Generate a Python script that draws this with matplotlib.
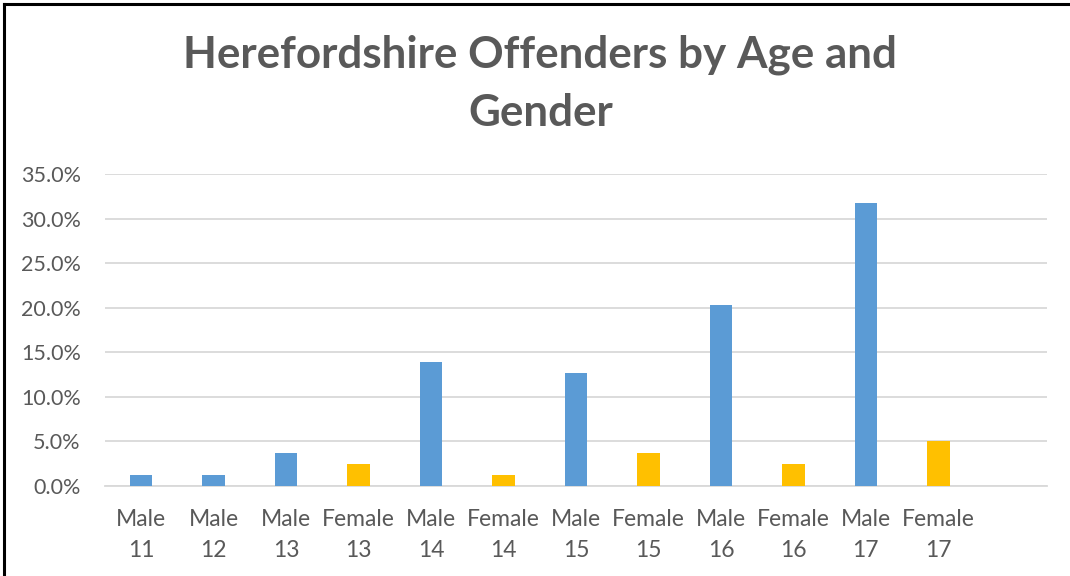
import matplotlib.pyplot as plt
from matplotlib.lines import Line2D
from matplotlib.ticker import FuncFormatter

genders = ['Male', 'Male', 'Male', 'Female', 'Male', 'Female',
           'Male', 'Female', 'Male', 'Female', 'Male', 'Female']
ages = [11, 12, 13, 13, 14, 14, 15, 15, 16, 16, 17, 17]
share = [1.25, 1.25, 3.75, 2.5, 13.9, 1.25, 12.7, 3.75, 20.3, 2.5, 31.7, 5.0]

colours = {'Male': '#5B9BD5', 'Female': '#FFC000'}
grey = '#595959'

plt.rcParams['font.family'] = ['Lato', 'DejaVu Sans']

fig = plt.figure(figsize=(10.7, 5.76), dpi=100)
ax = fig.add_axes([105 / 1070, 90 / 576, 942 / 1070, 312 / 576])

x = list(range(len(share)))
ax.bar(x, share, width=0.31, color=[colours[g] for g in genders], zorder=3)

ax.set_xlim(-0.5, len(share) + 0.5)
ax.set_ylim(0, 35)
ax.set_yticks(range(0, 36, 5))
ax.yaxis.set_major_formatter(FuncFormatter(lambda v, p: f'{v:.1f}%'))
ax.set_xticks(x)
ax.set_xticklabels([f'{g}\n{a}' for g, a in zip(genders, ages)], linespacing=1.6)

ax.grid(axis='y', color='#d9d9d9', lw=1.3, zorder=0)
for s in ['top', 'right', 'left']:
    ax.spines[s].set_visible(False)
ax.spines['bottom'].set_color('#d9d9d9')
ax.spines['bottom'].set_linewidth(1.3)
ax.tick_params(axis='both', length=0, colors=grey)
ax.tick_params(axis='y', pad=17.5, labelsize=15.5)
ax.tick_params(axis='x', pad=16.5, labelsize=16.5)

fig.text(0.505, 1 - 84 / 576, 'Herefordshire Offenders by Age and\nGender',
         ha='center', va='center', fontsize=31.7, fontweight='bold',
         color=grey, linespacing=1.54)

# black frame round the chart (only left and top are visible)
fig.add_artist(Line2D([4 / 1070, 4 / 1070], [0, 1 - 4 / 576], color='black', lw=2.2))
fig.add_artist(Line2D([4 / 1070, 1], [1 - 4 / 576, 1 - 4 / 576], color='black', lw=2.2))

plt.savefig('out.png', dpi=100)
